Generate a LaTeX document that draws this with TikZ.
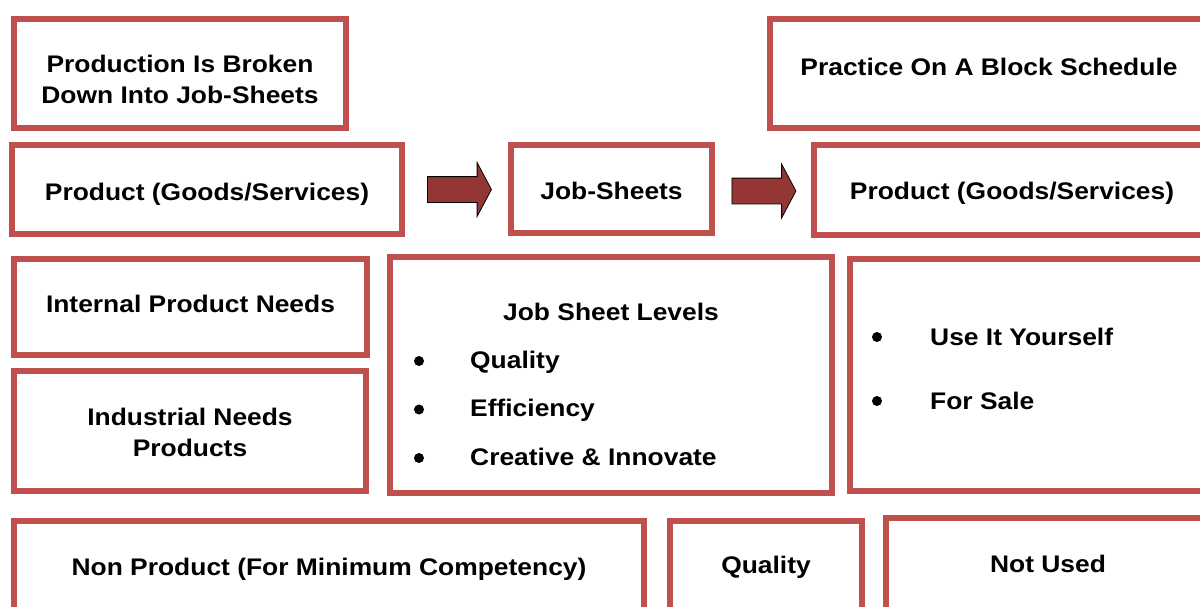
\documentclass[tikz,border=0pt]{standalone}
\usepackage{fontspec}
\setmainfont[FakeStretch=1.1]{Liberation Sans}
\usetikzlibrary{shapes,backgrounds}

\definecolor{boxred}{HTML}{C0504D}
\definecolor{arrowred}{HTML}{943634}

\tikzset{
  box/.style={draw=boxred, line width=6pt, rectangle, inner sep=0pt, fill=white},
  txt/.style={font=\fontsize{24}{31}\selectfont\bfseries, anchor=base, inner sep=0pt},
  bul/.style={circle, fill=black, inner sep=0pt, minimum size=10pt},
  blockarrow/.style={single arrow, draw=black, line width=0.8pt, fill=arrowred,
    text height=25pt, text depth=0pt, text width=0pt, inner sep=0pt,
    minimum height=64pt, single arrow head extend=14pt,
    single arrow tip angle=124}
}

\begin{document}
\begin{tikzpicture}[x=1pt,y=-1pt]
\useasboundingbox (0,0) rectangle (1200,606);
% top row
\node[box, minimum width=332pt, minimum height=109pt] (broken) at (180,73.5) {};
\node[txt] (broken1) at (180,72.7) {Production Is Broken};
\node[txt] (broken2) at (180,103.5) {Down Into Job-Sheets};
\node[box, minimum width=438pt, minimum height=109pt] (block) at (989,73.5) {};
\node[txt] (blockt) at (989,75) {Practice On A Block Schedule};
% product row
\node[box, minimum width=390pt, minimum height=89pt] (prodL) at (207,189.5) {};
\node[txt] (prodLt) at (207,200.5) {Product (Goods/Services)};
\node[box, minimum width=201pt, minimum height=88pt] (jobs) at (611.5,189) {};
\node[txt] (jobst) at (611.5,199) {Job-Sheets};
\node[box, minimum width=396pt, minimum height=90pt] (prodR) at (1012,190) {};
\node[txt] (prodRt) at (1012,199.3) {Product (Goods/Services)};
\node[blockarrow] (arr1) at (456,189.5) {};
\node[blockarrow] (arr2) at (760.5,191) {};
% middle row
\node[box, minimum width=353pt, minimum height=96pt] (internal) at (190.5,307) {};
\node[txt] (internalt) at (190.5,312) {Internal Product Needs};
\node[box, minimum width=352pt, minimum height=120pt] (industrial) at (190,431) {};
\node[txt] (industrial1) at (190,425) {Industrial Needs};
\node[txt] (industrial2) at (190,456) {Products};
\node[box, minimum width=442pt, minimum height=236pt] (levels) at (611,375) {};
\node[txt] (levelst) at (611,320) {Job Sheet Levels};
\node[bul] (b1) at (419,361) {};
\node[bul] (b2) at (419,409.5) {};
\node[bul] (b3) at (419,458) {};
\node[txt, anchor=base west] (lv1) at (470,368.3) {Quality};
\node[txt, anchor=base west] (lv2) at (470,416.7) {Efficiency};
\node[txt, anchor=base west] (lv3) at (470,465) {Creative \& Innovate};
\node[box, minimum width=362pt, minimum height=232pt] (use) at (1031,375) {};
\node[bul] (b4) at (877,337) {};
\node[bul] (b5) at (877,401) {};
\node[txt, anchor=base west] (use1) at (930,345) {Use It Yourself};
\node[txt, anchor=base west] (use2) at (930,409) {For Sale};
% bottom row
\node[box, minimum width=630pt, minimum height=96pt] (nonprod) at (329,569) {};
\node[txt] (nonprodt) at (329,575) {Non Product (For Minimum Competency)};
\node[box, minimum width=192pt, minimum height=96pt] (quality) at (766,569) {};
\node[txt] (qualityt) at (766,573) {Quality};
\node[box, minimum width=324pt, minimum height=99pt] (notused) at (1048,567.5) {};
\node[txt] (notusedt) at (1048,572.7) {Not Used};
\end{tikzpicture}
\end{document}
